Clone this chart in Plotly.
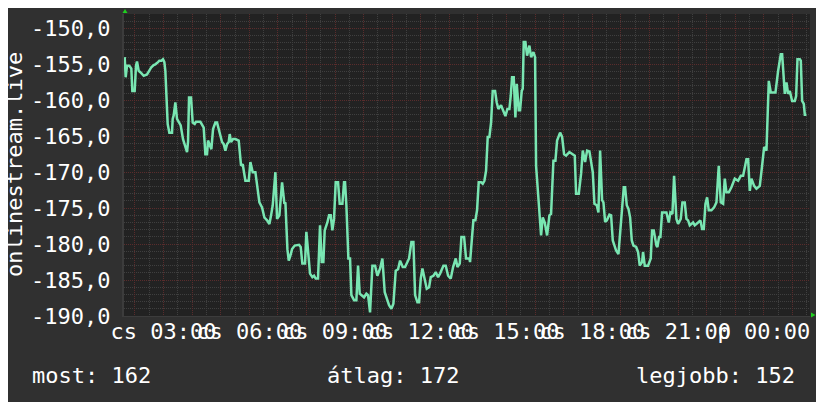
import plotly.graph_objects as go
import pandas as pd

# minutes since Thursday 00:00 and the reading at that moment
minutes = [
    98.4, 100.5, 103.3, 108.2, 112.4, 114.5, 119.4, 122.2, 124.3, 127.8,
    131.3, 138.3, 145.3, 148.8, 154.4, 159.3, 162.8, 168.4, 171.2, 175.4,
    178.9, 181.7, 183.8, 188.7, 192.2, 197.8, 199.2, 201.3, 204.8, 208.3,
    211.8, 216.0, 220.9, 224.4, 229.3, 231.4, 233.5, 237.7, 241.2, 245.4,
    248.2, 257.3, 260.8, 264.3, 267.8, 271.3, 273.4, 276.9, 280.4, 283.9,
    288.8, 292.3, 295.8, 299.3, 302.8, 306.3, 309.8, 313.3, 316.8, 318.9,
    321.7, 325.9, 330.8, 337.8, 342.7, 346.2, 351.8, 358.8, 362.3, 367.2,
    372.8, 378.4, 381.2, 386.8, 391.7, 397.3, 402.2, 405.7, 409.2, 414.8,
    418.3, 423.2, 428.8, 433.7, 435.8, 440.0, 442.8, 446.3, 449.8, 455.4,
    460.9, 464.4, 467.9, 471.4, 477.0, 479.8, 483.3, 487.5, 492.4, 495.9,
    499.4, 504.3, 508.5, 512.0, 515.5, 518.3, 523.9, 527.4, 530.9, 534.4,
    537.9, 541.4, 546.3, 549.8, 555.4, 558.9, 561.0, 563.8, 568.0, 571.5,
    574.3, 579.9, 584.8, 588.3, 591.8, 595.3, 600.9, 605.8, 609.3, 613.5,
    618.4, 624.0, 628.9, 634.5, 639.4, 644.3, 648.5, 653.4, 658.3, 662.5,
    667.4, 672.3, 676.5, 682.1, 687.0, 695.4, 700.3, 704.5, 708.0, 712.9,
    716.4, 719.9, 723.4, 728.3, 732.5, 737.4, 740.9, 746.5, 751.4, 756.3,
    760.5, 767.5, 772.4, 777.3, 782.9, 787.8, 793.4, 796.9, 801.8, 805.3,
    810.9, 815.0, 822.0, 823.4, 826.9, 830.4, 834.6, 838.1, 841.6, 846.5,
    850.0, 853.5, 857.0, 860.5, 864.0, 867.5, 871.0, 875.9, 879.4, 882.9,
    888.5, 893.4, 897.6, 901.8, 906.0, 908.8, 911.6, 915.1, 918.6, 921.4,
    925.6, 928.4, 931.9, 934.0, 936.1, 939.6, 943.1, 948.0, 951.5, 956.4,
    959.9, 962.0, 966.9, 972.5, 976.0, 980.2, 985.1, 990.0, 993.5, 998.4,
    1002.6, 1006.1, 1012.4, 1016.6, 1020.8, 1025.0, 1032.0, 1039.0, 1043.2, 1046.0,
    1051.6, 1056.5, 1060.0, 1064.9, 1069.1, 1074.0, 1077.5, 1081.0, 1084.5, 1089.4,
    1092.9, 1096.4, 1100.6, 1103.4, 1106.9, 1110.4, 1116.0, 1119.5, 1123.0, 1130.0,
    1134.9, 1138.4, 1141.9, 1146.1, 1148.9, 1152.4, 1155.9, 1159.4, 1162.9, 1166.4,
    1172.0, 1176.1, 1179.6, 1184.5, 1186.6, 1190.1, 1197.1, 1200.6, 1202.7, 1205.5,
    1209.0, 1214.6, 1216.7, 1220.2, 1223.0, 1226.5, 1230.7, 1235.6, 1240.5, 1244.0,
    1248.2, 1251.7, 1256.6, 1260.1, 1265.7, 1269.2, 1274.1, 1277.6, 1281.1, 1284.6,
    1291.6, 1295.1, 1302.1, 1307.0, 1310.5, 1314.0, 1317.5, 1321.0, 1324.5, 1330.1,
    1335.7, 1340.6, 1345.5, 1349.7, 1354.6, 1358.1, 1361.6, 1366.5, 1372.1, 1375.6,
    1379.1, 1386.1, 1391.7, 1396.6, 1403.6, 1407.1, 1410.6, 1414.1, 1419.7, 1424.6,
    1431.6, 1436.5, 1440.7, 1445.6, 1450.5, 1454.7, 1459.6, 1464.5, 1470.1, 1475.7,
    1478.5, 1482.0, 1484.1, 1487.6, 1491.1, 1494.6, 1499.5, 1505.1, 1507.9, 1510.7,
    1515.6, 1517.7, 1520.5, 1524.0, 1526.1, 1529.6,
]

values = [
    -154.0, -156.8, -155.2, -155.2, -155.6, -158.7, -158.7, -155.2, -154.6, -155.9,
    -156.1, -156.6, -156.4, -156.0, -155.4, -155.1, -155.0, -154.7, -154.5, -154.5,
    -154.3, -154.7, -155.9, -163.3, -164.5, -164.5, -162.6, -162.1, -160.3, -162.6,
    -163.1, -163.5, -165.4, -166.3, -167.2, -165.8, -159.6, -159.6, -163.1, -163.3,
    -163.0, -163.0, -163.5, -163.8, -167.5, -167.5, -165.6, -166.3, -166.8, -164.0,
    -163.1, -163.1, -164.0, -164.5, -165.8, -166.1, -167.0, -166.1, -165.8, -164.7,
    -165.8, -165.4, -165.4, -165.6, -169.1, -168.9, -171.2, -171.2, -168.6, -170.0,
    -170.0, -172.8, -174.2, -174.9, -176.3, -176.7, -177.2, -176.0, -174.6, -170.0,
    -176.5, -176.0, -171.4, -174.4, -174.2, -180.7, -182.3, -181.6, -180.7, -180.2,
    -180.2, -180.1, -180.4, -182.7, -182.7, -178.3, -180.9, -184.1, -184.6, -184.4,
    -184.8, -184.8, -177.4, -182.5, -182.5, -178.1, -177.0, -176.0, -176.0, -178.1,
    -176.5, -171.4, -171.4, -174.4, -174.4, -171.4, -171.4, -174.6, -182.0, -182.0,
    -187.1, -187.8, -187.8, -183.0, -186.9, -187.1, -187.4, -186.9, -187.1, -189.5,
    -183.0, -183.0, -184.4, -183.4, -182.0, -186.7, -187.6, -188.5, -189.0, -188.3,
    -183.7, -183.5, -182.3, -183.2, -183.2, -182.0, -179.7, -179.7, -187.1, -188.1,
    -188.1, -184.8, -183.4, -184.8, -186.2, -186.0, -184.6, -184.4, -183.9, -184.6,
    -184.1, -183.0, -183.0, -184.4, -184.8, -183.2, -182.0, -183.2, -182.7, -179.0,
    -179.0, -182.0, -182.0, -182.5, -179.5, -176.7, -176.7, -175.3, -171.4, -171.4,
    -171.6, -171.2, -169.8, -165.1, -165.1, -163.1, -158.7, -158.7, -160.3, -161.2,
    -160.7, -161.4, -162.2, -161.2, -161.2, -159.4, -156.8, -156.8, -162.4, -157.7,
    -161.4, -161.4, -158.7, -158.4, -151.9, -151.9, -153.8, -152.4, -154.0, -153.3,
    -154.0, -169.1, -173.9, -178.8, -176.3, -177.0, -178.8, -176.0, -175.8, -168.4,
    -168.4, -165.6, -164.5, -165.1, -167.5, -167.7, -167.2, -167.5, -167.7, -173.0,
    -173.0, -170.2, -167.0, -168.6, -167.0, -167.1, -168.6, -170.0, -174.4, -174.6,
    -175.6, -167.0, -173.9, -174.2, -176.9, -176.7, -175.9, -176.0, -179.5, -180.9,
    -181.4, -178.1, -175.1, -172.1, -172.1, -174.6, -175.1, -176.3, -179.5, -180.2,
    -180.4, -181.1, -183.0, -182.5, -181.1, -183.0, -183.0, -182.5, -182.0, -178.1,
    -178.1, -180.2, -180.4, -179.0, -179.0, -175.6, -175.6, -175.6, -177.0, -175.6,
    -175.8, -170.5, -176.5, -177.2, -176.5, -174.2, -174.2, -176.5, -176.7, -177.4,
    -177.0, -177.4, -177.0, -176.7, -177.9, -177.9, -174.4, -173.5, -175.3, -175.3,
    -174.9, -174.2, -169.1, -174.2, -174.4, -170.9, -172.8, -172.8, -172.1, -171.4,
    -170.9, -171.2, -170.5, -170.5, -168.2, -168.2, -172.6, -170.9, -171.9, -172.3,
    -171.9, -169.1, -166.5, -167.0, -157.3, -158.9, -158.9, -158.9, -155.9, -153.6,
    -153.6, -157.3, -159.1, -157.5, -159.1, -158.7, -160.1, -160.1, -159.4, -154.3,
    -154.3, -154.5, -160.1, -160.5, -162.0, -162.0,
]

window_start_min = 97
window_end_min = 1537
grid_hours = list(range(2, 26))
label_hours = [3, 6, 9, 12, 15, 18, 21, 24]
x_tick_labels = ["cs 03:00", "cs 06:00", "cs 09:00", "cs 12:00",
                 "cs 15:00", "cs 18:00", "cs 21:00", "p 00:00"]
y_ticks = [-190, -185, -180, -175, -170, -165, -160, -155, -150]
y_tick_labels = ["-190,0", "-185,0", "-180,0", "-175,0", "-170,0",
                 "-165,0", "-160,0", "-155,0", "-150,0"]
y_range = [-190, -148]
series_name = "onlinestream.live"
summary_texts = ["most: 162", "átlag: 172", "legjobb: 152"]

base = pd.Timestamp("2024-01-04 00:00")
times = [base + pd.Timedelta(minutes=m) for m in minutes]
grid_vals = [base + pd.Timedelta(hours=h) for h in grid_hours]
grid_text = [x_tick_labels[label_hours.index(h)] if h in label_hours else "" for h in grid_hours]

FONT = "DejaVu Sans Mono"
FS = 22
MAJOR = "#5a2c2c"
MINOR = "#3f3f3f"
DASH = "1px,1px"

fig = go.Figure()
fig.add_trace(go.Scatter(
    x=times, y=values, mode="lines",
    line=dict(color="#79e6b2", width=2.5),
    hoverinfo="skip", showlegend=False,
))

fig.update_layout(
    width=824, height=402,
    margin=dict(l=116, r=22, t=6, b=94, autoexpand=False),
    paper_bgcolor="#303030",
    plot_bgcolor="#222222",
    font=dict(family=FONT, size=FS, color="#ffffff"),
    showlegend=False,
)

fig.update_xaxes(
    type="date", automargin=False, tickangle=0,
    range=[base + pd.Timedelta(minutes=window_start_min), base + pd.Timedelta(minutes=window_end_min)],
    tickmode="array", tickvals=grid_vals, ticktext=grid_text,
    showgrid=True, gridcolor=MAJOR, griddash=DASH, gridwidth=1,
    minor=dict(tickmode="linear", tick0=base, dtick=1800000, showgrid=True,
               gridcolor=MINOR, griddash=DASH, gridwidth=1),
    ticks="", ticklen=0, zeroline=False,
    showline=True, linecolor="#3c3c3c", linewidth=1,
    tickfont=dict(family=FONT, size=FS, color="#ffffff"),
    ticklabelstandoff=-4,
)

fig.update_yaxes(
    automargin=False,
    range=y_range,
    tickmode="array", tickvals=y_ticks, ticktext=y_tick_labels,
    showgrid=True, gridcolor=MAJOR, griddash=DASH, gridwidth=1,
    minor=dict(tickmode="linear", tick0=-190, dtick=1, showgrid=True,
               gridcolor=MINOR, griddash=DASH, gridwidth=1),
    ticks="", ticklen=0, zeroline=False,
    showline=True, linecolor="#3c3c3c", linewidth=2,
    tickfont=dict(family=FONT, size=FS, color="#ffffff"),
    ticklabelstandoff=7,
)

annotations = [
    dict(text=series_name, textangle=-90, xref="paper", yref="paper",
         x=-0.1603, y=0.5, xanchor="center", yanchor="middle", showarrow=False,
         font=dict(family=FONT, size=FS, color="#ffffff")),
]
for txt, xp in zip(summary_texts, [-0.1371, 0.2936, 0.7440]):
    annotations.append(dict(text=txt, xref="paper", yref="paper", x=xp, y=-0.1954,
                            xanchor="left", yanchor="middle", showarrow=False,
                            font=dict(family=FONT, size=FS, color="#ffffff")))
fig.update_layout(annotations=annotations)

fig.add_shape(type="path", xref="paper", yref="paper",
              path="M -0.0022 1.0033 L 0.0051 1.0033 L 0.0015 1.0166 Z",
              fillcolor="#1fd01f", line=dict(width=0))
fig.add_shape(type="path", xref="paper", yref="paper",
              path="M 1.0015 0.0116 L 1.0015 -0.0050 L 1.0080 0.0033 Z",
              fillcolor="#1fd01f", line=dict(width=0))

fig.write_html("out.html")
